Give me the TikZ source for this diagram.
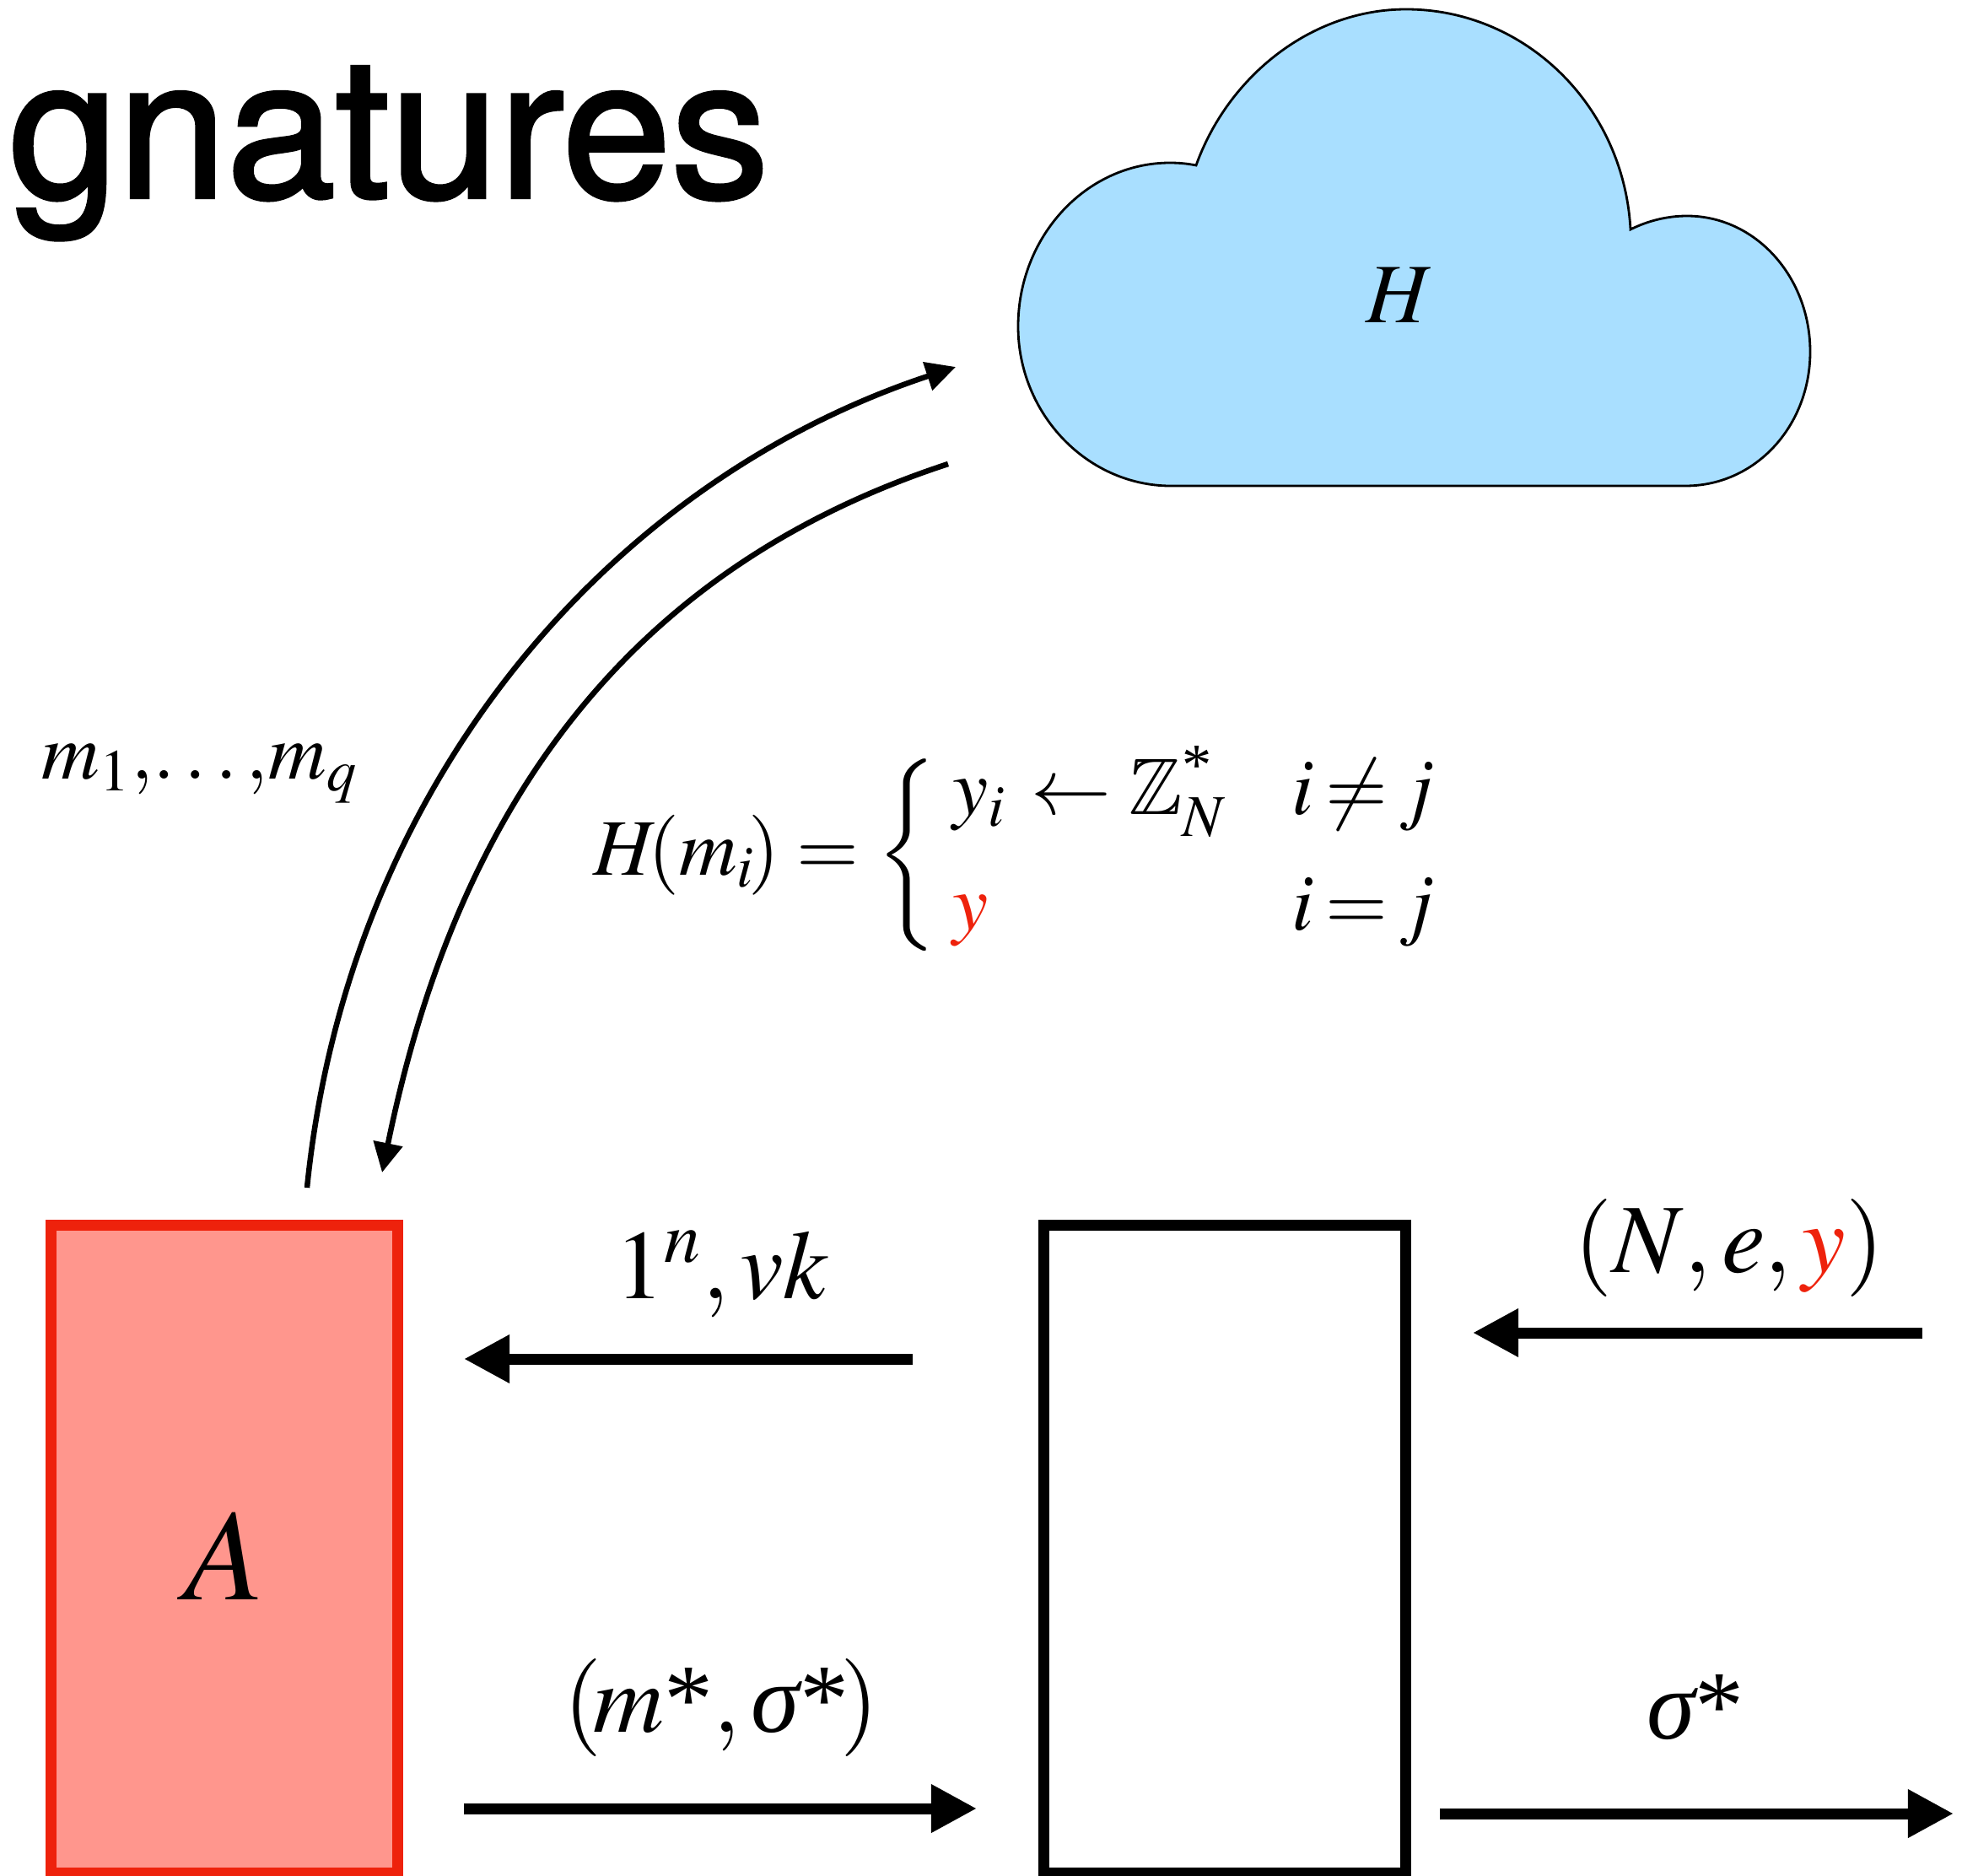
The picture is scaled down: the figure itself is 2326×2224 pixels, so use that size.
\documentclass[tikz,border=0pt]{standalone}
\usepackage{amsmath}
\usepackage{amssymb}
\usepackage{mathptmx}
\usepackage{fontspec}
\usepackage{tikz}
\usetikzlibrary{arrows.meta}
\newfontfamily\titlefont[FakeBold=1.8]{TeX Gyre Heros}
\newfontfamily\timesface{Liberation Serif}
\newcommand\sigmaglyph{\mbox{\timesface\itshape σ}}
\newcommand\starglyph{\mbox{\timesface *}}
\definecolor{advred}{HTML}{EE220C}
\definecolor{advfill}{HTML}{FF968D}
\definecolor{cloudblue}{HTML}{A9DFFF}
\tikzset{
  fatarrow/.style={line width=3.7pt,-{Triangle[length=15.4pt,width=15.4pt]}},
  thinarrow/.style={line width=1.85pt,-{Triangle[length=10pt,width=9.7pt]}},
  partybox/.style={draw,line width=3.7pt,minimum width=#1,minimum height=7.67cm,inner sep=0pt},
  lab/.style={anchor=base,inner sep=0pt,font=\fontsize{33}{38}\selectfont},
  smalllab/.style={anchor=base,inner sep=0pt,font=\fontsize{27}{32}\selectfont}
}
\begin{document}
\begin{tikzpicture}[x=0.01cm,y=-0.01cm]
  \useasboundingbox (0,0) rectangle (2326,2224);

  % cropped title
  \node[anchor=base west,inner sep=0pt,font=\titlefont\fontsize{66}{70}\selectfont] (title) at (10,234) {gnatures};

  % cloud
  \draw[fill=cloudblue,line width=0.8pt] (1392,576)
    .. controls (1290,578) and (1207,491) .. (1207,387)
    .. controls (1207,280) and (1288,193) .. (1387,193)
    .. controls (1398,193) and (1408,194) .. (1418,196)
    .. controls (1456,90) and (1555,11) .. (1667,11)
    .. controls (1808,11) and (1925,125) .. (1933,272)
    .. controls (1953,262) and (1976,256) .. (2000,256)
    .. controls (2081,256) and (2146,328) .. (2146,417)
    .. controls (2146,505) and (2081,577) .. (1996,576)
    -- cycle;
  \node[anchor=base,inner sep=0pt,font=\fontsize{28.5}{34}\selectfont] (hash) at (1659,382) {$H$};

  % the two parties
  \node[partybox=4.10cm,draw=advred,fill=advfill] (adv) at (266,1836.5) {};
  \node[partybox=4.28cm] (rdn) at (1452,1836.5) {};
  \node[anchor=base,inner sep=0pt,font=\fontsize{44}{50}\selectfont] (advname) at (266,1896) {$A$};

  % free ends of the arrows
  \coordinate (qfrom) at (364,1408);
  \coordinate (qto) at (1133,435);
  \coordinate (afrom) at (1124,550);
  \coordinate (ato) at (453,1390);
  \coordinate (vkfrom) at (1082,1611);
  \coordinate (vkto) at (550,1611);
  \coordinate (pkfrom) at (2279,1580);
  \coordinate (pkto) at (1746,1580);
  \coordinate (forgefrom) at (550,2144);
  \coordinate (forgeto) at (1158,2144);
  \coordinate (sigfrom) at (1707,2150);
  \coordinate (sigto) at (2316,2150);

  % oracle queries and answers
  \draw[thinarrow] (qfrom) .. controls (412,930) and (722,571) .. (qto);
  \draw[thinarrow] (afrom) .. controls (739,676) and (540,964) .. (ato);

  % game messages
  \draw[fatarrow] (vkfrom) -- (vkto);
  \draw[fatarrow] (pkfrom) -- (pkto);
  \draw[fatarrow] (forgefrom) -- (forgeto);
  \draw[fatarrow] (sigfrom) -- (sigto);

  % labels
  \node[smalllab] (qlab) at (237,923) {$m_1,\!\ldots,\!m_q$};
  \node[smalllab,anchor=base west] (prog) at (703,1037) {\renewcommand\arraystretch{1.22}\delimiterfactor=770 \delimitershortfall=20pt
    $H\!(m_i\mskip-1.5mu)=
    \left\{\begin{array}{@{\mskip3.5mu}l@{\hspace{22pt}}l@{}}
      y_i\mskip1.5mu\leftarrow\mathbb{Z}_N^{\text{\timesface *}} & i\mskip-1.5mu\neq\mskip-1.5mu j\\
      \textcolor{advred}{y} & i\mskip-1.5mu=\mskip-1.5mu j\\[4pt]
    \end{array}\right.$};
  \node[lab] (vklab) at (856,1539) {$1^n,vk$};
  \node[lab] (pklab) at (2050,1508) {$(N,e,\textcolor{advred}{y})$};
  \node[lab] (forgelab) at (855,2053) {$(\mskip-1.5mu m\starglyph,\sigmaglyph\starglyph\mskip-1.5mu)$};
  \node[lab] (siglab) at (2010,2061) {$\sigmaglyph\starglyph$};
\end{tikzpicture}
\end{document}
